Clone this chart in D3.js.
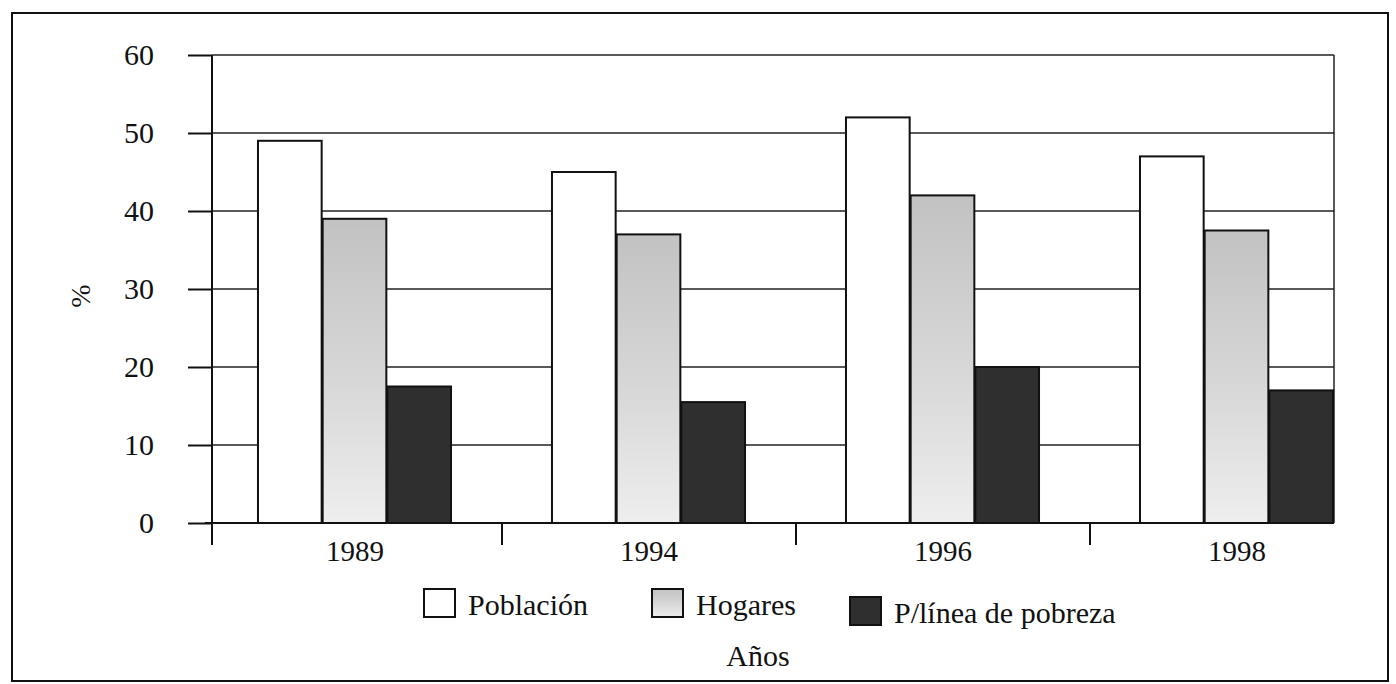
<!DOCTYPE html>
<html>
<head>
<meta charset="utf-8">
<script src="https://cdn.jsdelivr.net/npm/d3@7"></script>
<style>
  body { margin: 0; background: #fff; }
  svg text { font-family: "Liberation Serif", "DejaVu Serif", serif; fill: #111; }
</style>
</head>
<body>
<div id="chart"></div>
<script>
// data
var years = ['1989', '1994', '1996', '1998'];
var series = ['Población', 'Hogares', 'P/línea de pobreza'];
var poblacion = [49, 45, 52, 47];
var hogares = [39, 37, 42, 37.5];
var pLinea = [17.5, 15.5, 20, 17];
var yTicks = [0, 10, 20, 30, 40, 50, 60];

var W = 1396, H = 684;
var svg = d3.select('#chart').append('svg')
    .attr('width', W).attr('height', H);

// outer frame
svg.append('rect')
    .attr('x', 12).attr('y', 13)
    .attr('width', 1376).attr('height', 668)
    .attr('fill', 'none').attr('stroke', '#111').attr('stroke-width', 2);

var plotLeft = 212, plotRight = 1334;

var y = d3.scaleLinear().domain([0, 60]).range([523, 55]);
var x0 = d3.scaleBand().domain(years).range([208, 1384]);
var groupW = x0.bandwidth() * 0.66;
var x1 = d3.scaleBand().domain(series).range([0, groupW]);

// gradient for the gray series
var defs = svg.append('defs');
var grad = defs.append('linearGradient')
    .attr('id', 'hogGrad').attr('x1', 0).attr('y1', 0).attr('x2', 0).attr('y2', 1);
grad.append('stop').attr('offset', '0%').attr('stop-color', '#c2c2c2');
grad.append('stop').attr('offset', '55%').attr('stop-color', '#d8d8d8');
grad.append('stop').attr('offset', '100%').attr('stop-color', '#eeeeee');

var fills = {
    'Población': '#ffffff',
    'Hogares': 'url(#hogGrad)',
    'P/línea de pobreza': '#2f2f2f'
};

// grid lines
svg.append('g').selectAll('line')
    .data(yTicks)
    .enter().append('line')
    .attr('x1', plotLeft).attr('x2', plotRight)
    .attr('y1', function(d) { return y(d); })
    .attr('y2', function(d) { return y(d); })
    .attr('stroke', '#222').attr('stroke-width', 1.3);

// right border of plot
svg.append('line')
    .attr('x1', plotRight).attr('x2', plotRight)
    .attr('y1', y(60)).attr('y2', y(0))
    .attr('stroke', '#222').attr('stroke-width', 1.5);

// y axis
var yAxis = d3.axisLeft(y).tickValues(yTicks).tickSize(24).tickPadding(34);
var gy = svg.append('g')
    .attr('transform', 'translate(' + plotLeft + ',0)')
    .call(yAxis);
gy.select('.domain').remove();
gy.selectAll('line').attr('stroke', '#111').attr('stroke-width', 2);
gy.selectAll('text')
    .attr('font-size', 30)
    .attr('font-family', '"Liberation Serif", serif');
svg.append('line')
    .attr('x1', plotLeft).attr('x2', plotLeft)
    .attr('y1', y(60)).attr('y2', 545)
    .attr('stroke', '#111').attr('stroke-width', 2);

svg.append('text')
    .attr('transform', 'translate(90,296) rotate(-90)')
    .attr('text-anchor', 'middle')
    .attr('font-size', 28)
    .text('%');

// bars
var rows = years.map(function(yr, i) {
    return { year: yr, values: [poblacion[i], hogares[i], pLinea[i]] };
});

var groups = svg.append('g').selectAll('g')
    .data(rows)
    .enter().append('g')
    .attr('transform', function(d) {
        return 'translate(' + (x0(d.year) + (x0.bandwidth() - groupW) / 2) + ',0)';
    });

groups.selectAll('rect')
    .data(function(d) {
        return d.values.map(function(v, j) { return { key: series[j], value: v }; });
    })
    .enter().append('rect')
    .attr('x', function(d) { return x1(d.key); })
    .attr('width', x1.bandwidth() - 1)
    .attr('y', function(d) { return y(d.value); })
    .attr('height', function(d) { return y(0) - y(d.value); })
    .attr('fill', function(d) { return fills[d.key]; })
    .attr('stroke', '#111')
    .attr('stroke-width', 2);

// x axis
var xAxis = d3.axisBottom(x0).tickSize(0).tickPadding(12);
var gx = svg.append('g')
    .attr('transform', 'translate(0,' + y(0) + ')')
    .call(xAxis);
gx.select('.domain').remove();
gx.selectAll('text')
    .attr('font-size', 29)
    .attr('font-family', '"Liberation Serif", serif')
    .attr('dy', '0.9em');
svg.append('line')
    .attr('x1', 205).attr('x2', plotRight)
    .attr('y1', y(0)).attr('y2', y(0))
    .attr('stroke', '#111').attr('stroke-width', 2);
svg.append('g').selectAll('line')
    .data(years.slice(1))
    .enter().append('line')
    .attr('x1', function(d) { return x0(d); })
    .attr('x2', function(d) { return x0(d); })
    .attr('y1', y(0)).attr('y2', y(0) + 22)
    .attr('stroke', '#111').attr('stroke-width', 2);

// legend
var legendX = [424, 652, 850];
var legend = svg.append('g').selectAll('g')
    .data(series)
    .enter().append('g')
    .attr('transform', function(d, i) {
        return 'translate(' + legendX[i] + ',' + (i === 2 ? 597 : 589) + ')';
    });
legend.append('rect')
    .attr('width', 31).attr('height', 28)
    .attr('fill', function(d) { return fills[d]; })
    .attr('stroke', '#111').attr('stroke-width', 2);
legend.append('text')
    .attr('x', 44).attr('y', 26)
    .attr('font-size', 30)
    .text(function(d) { return d; });

svg.append('text')
    .attr('x', 758).attr('y', 666)
    .attr('text-anchor', 'middle')
    .attr('font-size', 30)
    .text('Años');
</script>
</body>
</html>
